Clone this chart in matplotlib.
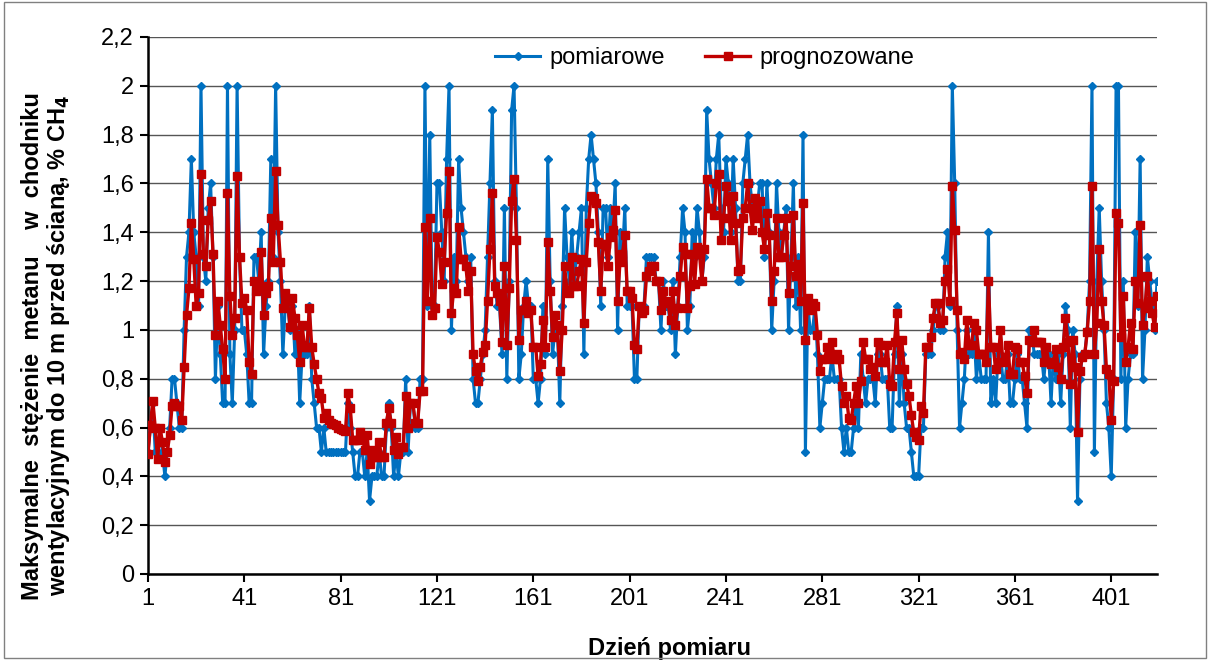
import matplotlib
matplotlib.use("Agg")
import matplotlib.pyplot as plt
from matplotlib.ticker import FuncFormatter, MultipleLocator

plt.rcParams['font.family'] = ['Liberation Sans', 'DejaVu Sans']

# measured values (pomiarowe), one per day
measured = [
    0.50, 0.60, 0.70, 0.50, 0.50, 0.60, 0.50, 0.40, 0.50, 0.60,
    0.80, 0.80, 0.70, 0.60, 0.60, 1.00, 1.30, 1.40, 1.70, 1.40,
    1.30, 1.10, 2.00, 1.30, 1.20, 1.50, 1.60, 1.30, 0.80, 1.10,
    0.90, 0.70, 0.70, 2.00, 0.90, 0.70,
    1.00, 2.00, 1.30, 1.00, 1.00, 0.90, 0.70, 0.70, 1.30, 1.30,
    1.20, 1.40, 0.90, 1.10, 1.20, 1.70, 1.30, 2.00, 1.40, 1.20,
    0.90, 1.10, 1.10, 1.00, 1.10, 0.90, 1.00, 0.70, 0.90, 0.90,
    0.90, 1.10, 0.80,
    0.70, 0.60, 0.60, 0.50, 0.60, 0.50, 0.50, 0.50, 0.50, 0.50,
    0.50, 0.50, 0.50, 0.50, 0.70, 0.60, 0.50, 0.40, 0.40, 0.50,
    0.50, 0.40, 0.50, 0.30, 0.40, 0.40, 0.40, 0.50, 0.40, 0.40,
    0.60, 0.70, 0.60, 0.40, 0.50, 0.40, 0.50, 0.50,
    0.80, 0.50, 0.70, 0.70, 0.60, 0.60, 0.80, 0.80, 2.00, 1.10,
    1.80, 1.10, 1.10, 1.60, 1.60, 1.40, 1.20, 1.70, 2.00, 1.00,
    1.30, 1.20, 1.70, 1.50, 1.40, 1.30, 1.20, 1.30, 0.80, 0.70,
    0.70, 0.80, 0.90, 1.00, 1.30, 1.60,
    1.90, 1.20, 1.10, 1.10, 0.90, 1.50, 0.80, 1.20, 1.90, 2.00,
    1.50, 0.80, 0.90, 1.10, 1.20, 1.10, 1.10, 0.80, 0.80, 0.70,
    0.80, 1.10, 0.90, 1.70, 1.20, 0.90, 1.00, 1.00, 0.70, 1.10,
    1.50, 1.30, 1.20, 1.40, 1.20, 1.30,
    1.40, 1.50, 0.90, 1.50, 1.70, 1.80, 1.70, 1.60, 1.40, 1.10,
    1.50, 1.50, 1.30, 1.50, 1.40, 1.60, 1.00, 1.40, 1.30, 1.50,
    1.10, 1.10, 1.10, 0.80, 0.80, 1.10, 1.10, 1.10, 1.30, 1.30,
    1.30, 1.30, 1.20, 1.20, 1.00, 1.20, 1.10,
    1.10, 1.00, 1.20, 0.90, 1.10, 1.30, 1.50, 1.40, 1.00, 1.10,
    1.40, 1.30, 1.50, 1.40, 1.20, 1.30, 1.90, 1.70, 1.60, 1.50,
    1.70, 1.80, 1.50, 1.40, 1.70, 1.60, 1.40, 1.70, 1.50, 1.20,
    1.20, 1.60, 1.70, 1.80, 1.60, 1.50,
    1.50, 1.50, 1.60, 1.60, 1.30, 1.60, 1.40, 1.00, 1.20, 1.60,
    1.40, 1.30, 1.40, 1.50, 1.00, 1.30, 1.60, 1.10, 1.30, 1.00,
    1.80, 0.50, 1.10, 1.00, 1.00, 1.10, 0.90, 0.60, 0.70, 0.80,
    0.80, 0.80, 0.90, 0.80, 0.80, 0.80, 0.60, 0.50,
    0.60, 0.50, 0.50, 0.60, 0.70, 0.60, 0.90, 0.80, 0.70, 0.80,
    0.80, 0.80, 0.70, 0.90, 0.90, 0.80, 0.80, 0.80, 0.60, 0.60,
    0.90, 1.10, 0.70, 0.90, 0.70, 0.60, 0.60, 0.50, 0.40, 0.40,
    0.40, 0.60, 0.60, 0.90, 0.90, 0.90, 1.00,
    1.10, 1.10, 1.00, 1.00, 1.30, 1.40, 1.10, 2.00, 1.60, 1.00,
    0.60, 0.70, 0.80, 1.00, 0.90, 0.90, 1.00, 0.80, 0.90, 0.80,
    0.80, 0.80, 1.40, 0.70, 0.80, 0.70, 0.90, 0.90, 0.80, 0.80,
    0.90, 0.70, 0.70, 0.80, 0.90, 0.80,
    0.80, 0.70, 0.60, 1.00, 1.00, 0.90, 0.90, 0.90, 0.90,
    0.80, 0.90, 0.90, 0.70, 0.90, 0.80, 0.90, 0.70, 0.90, 1.10,
    1.00, 0.60, 1.00, 0.90, 0.30, 0.80, 0.90, 0.90, 1.00, 1.20,
    2.00, 0.50, 1.20, 1.50, 1.20, 1.00, 0.70, 0.60, 0.40, 0.80,
    2.00, 2.00, 0.80, 1.20, 0.60, 0.80, 0.90, 0.90, 1.40, 1.10,
    1.70, 0.80, 1.00, 1.30, 1.20, 1.10, 1.00, 1.20,
]

# forecast values (prognozowane), one per day
forecast = [
    0.49, 0.61, 0.71, 0.60, 0.47, 0.60, 0.54, 0.46, 0.50, 0.57,
    0.69, 0.70, 0.69, 0.69, 0.63, 0.85, 1.06, 1.17, 1.44, 1.29,
    1.10, 1.15, 1.64, 1.31, 1.26, 1.45, 1.53, 1.31, 0.98, 1.12,
    1.02, 0.92, 0.80, 1.56, 1.14, 0.98,
    1.05, 1.63, 1.30, 1.11, 1.13, 1.08, 0.87, 0.82, 1.20, 1.16,
    1.17, 1.32, 1.06, 1.15, 1.18, 1.46, 1.28, 1.65, 1.43, 1.28,
    1.09, 1.15, 1.12, 1.01, 1.13, 1.05, 0.98, 0.87, 1.02, 0.93,
    0.93, 1.09, 0.93,
    0.86, 0.80, 0.74, 0.72, 0.64, 0.66, 0.63, 0.62, 0.615, 0.61,
    0.60, 0.595, 0.59, 0.585, 0.74, 0.68, 0.55, 0.55, 0.55, 0.58,
    0.56, 0.51, 0.57, 0.45, 0.51, 0.48, 0.48, 0.54, 0.48, 0.48,
    0.62, 0.68, 0.62, 0.51, 0.56, 0.49, 0.52, 0.52,
    0.73, 0.60, 0.70, 0.70, 0.62, 0.62, 0.75, 0.75, 1.42, 1.12,
    1.46, 1.06, 1.09, 1.38, 1.32, 1.19, 1.28, 1.48, 1.65, 1.07,
    1.17, 1.15, 1.42, 1.29, 1.29, 1.26, 1.16, 1.24, 0.90, 0.83,
    0.79, 0.85, 0.91, 0.94, 1.12, 1.33,
    1.56, 1.18, 1.15, 1.12, 0.95, 1.26, 0.94, 1.17, 1.53, 1.62,
    1.37, 0.96, 1.08, 1.08, 1.12, 1.07, 1.08, 0.93, 0.93, 0.81,
    0.86, 1.04, 0.93, 1.36, 1.16, 0.97, 1.06, 1.02, 0.83, 1.00,
    1.26, 1.16, 1.15, 1.30, 1.18, 1.18,
    1.24, 1.29, 1.03, 1.28, 1.44, 1.55, 1.54, 1.52, 1.36, 1.16,
    1.35, 1.35, 1.26, 1.38, 1.41, 1.49, 1.12, 1.28, 1.31, 1.39,
    1.16, 1.16, 1.13, 0.94, 0.92, 1.10, 1.07, 1.08, 1.22, 1.24,
    1.26, 1.26, 1.20, 1.20, 1.08, 1.16, 1.12,
    1.11, 1.04, 1.16, 1.02, 1.09, 1.22, 1.34, 1.31, 1.09, 1.18,
    1.31, 1.19, 1.34, 1.31, 1.20, 1.33, 1.62, 1.50, 1.50, 1.47,
    1.60, 1.64, 1.37, 1.46, 1.59, 1.53, 1.37, 1.55, 1.44, 1.24,
    1.25, 1.46, 1.50, 1.60, 1.50, 1.41,
    1.54, 1.46, 1.53, 1.40, 1.33, 1.48, 1.39, 1.12, 1.24, 1.46,
    1.30, 1.30, 1.39, 1.46, 1.15, 1.26, 1.47, 1.22, 1.27, 1.12,
    1.52, 0.96, 1.13, 1.08, 1.11, 1.10, 0.98, 0.83, 0.88, 0.88,
    0.93, 0.89, 0.95, 0.88, 0.90, 0.88, 0.77, 0.70,
    0.73, 0.64, 0.63, 0.70, 0.77, 0.70, 0.79, 0.95, 0.88, 0.88,
    0.84, 0.85, 0.81, 0.95, 0.94, 0.87, 0.87, 0.94, 0.78, 0.77,
    0.95, 1.07, 0.84, 0.96, 0.84, 0.78, 0.73, 0.65, 0.58, 0.56,
    0.55, 0.69, 0.66, 0.93, 0.93, 0.97, 1.05,
    1.11, 1.11, 1.03, 1.04, 1.20, 1.25, 1.12, 1.59, 1.41, 1.08,
    0.90, 0.91, 0.88, 1.04, 0.94, 0.94, 1.03, 1.00, 0.90, 0.90,
    0.90, 0.87, 1.20, 0.93, 0.93, 0.84, 0.87, 1.00, 0.87, 0.89,
    0.94, 0.82, 0.82, 0.93, 0.92, 0.87,
    0.87, 0.81, 0.74, 0.96, 0.95, 1.00, 0.95, 0.95, 0.95, 0.87,
    0.93, 0.87, 0.86, 0.87, 0.92, 0.85, 0.80, 0.93, 1.05, 0.95,
    0.78, 0.96, 0.85, 0.58, 0.83, 0.89, 0.90, 0.99, 1.12, 1.59,
    0.90, 1.03, 1.33, 1.12, 1.02, 0.84, 0.82, 0.63, 0.79, 1.48,
    1.44, 0.97, 1.14, 0.87, 0.93, 1.03, 0.92, 1.20, 1.11, 1.43,
    1.02, 1.09, 1.22, 1.12, 1.07, 1.01, 1.14,
]

days = list(range(1, len(measured) + 1))
x_ticks = [1, 41, 81, 121, 161, 201, 241, 281, 321, 361, 401]

fig = plt.figure(figsize=(12.1, 6.6), dpi=100)
ax = fig.add_axes([148 / 1210, 1 - 574 / 660, (1157 - 148) / 1210, (574 - 37) / 660])

ax.plot(days, measured, color='#0070C0', lw=2.2, marker='D', ms=4,
        label='pomiarowe', zorder=3)
ax.plot(days, forecast, color='#C00000', lw=2.4, marker='s', ms=5.5,
        label='prognozowane', zorder=4)

ax.set_ylim(0, 2.2)
ax.set_xlim(1, len(days))
ax.yaxis.set_major_locator(MultipleLocator(0.2))
ax.yaxis.set_major_formatter(FuncFormatter(lambda v, p: ('%g' % round(v, 1)).replace('.', ',')))
ax.set_xticks(x_ticks)
ax.grid(axis='y', color='#555555', lw=1)
ax.set_axisbelow(True)
for s in ['top', 'right']:
    ax.spines[s].set_visible(False)
ax.spines['left'].set_linewidth(1.8)
ax.spines['bottom'].set_linewidth(1.8)
ax.tick_params(axis='both', labelsize=17, direction='out', length=6, width=1.5, pad=4)

ax.set_ylabel('Maksymalne  stężenie  metanu    w  chodniku\nwentylacyjnym do 10 m przed ścianą, % CH$_\\mathbf{4}$',
              fontsize=17, fontweight='bold', linespacing=1.05)
ax.yaxis.set_label_coords(-0.075, 0.425)
ax.set_xlabel('Dzień pomiaru', fontsize=17, fontweight='bold')
ax.xaxis.set_label_coords(0.517, -0.118)

ax.legend(loc='center', bbox_to_anchor=(0.552, 0.961), ncol=2, frameon=False,
          fontsize=17, handlelength=1.9, handletextpad=0.4, columnspacing=1.7)

# thin frame round the whole chart
fig.patches.append(plt.Rectangle((0.003, 0.003), 0.994, 0.994, transform=fig.transFigure,
                                 fill=False, edgecolor='#808080', lw=1))

fig.savefig('out.png', dpi=100)
